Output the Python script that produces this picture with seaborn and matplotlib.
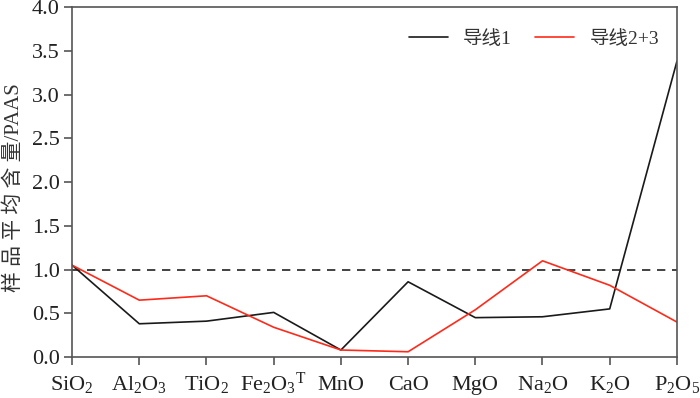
import matplotlib
matplotlib.use("Agg")
import matplotlib.pyplot as plt
import seaborn as sns
import pandas as pd

oxides = ["SiO2", "Al2O3", "TiO2", "Fe2O3T", "MnO", "CaO", "MgO", "Na2O", "K2O", "P2O5"]
tick_labels = [r"SiO$_2$", r"Al$_2$O$_3$", r"TiO$_2$", r"Fe$_2$O$_3$$^{\mathrm{T}}$", "MnO", "CaO",
               "MgO", r"Na$_2$O", r"K$_2$O", r"P$_2$O$_5$"]
line1 = [1.05, 0.38, 0.41, 0.51, 0.08, 0.86, 0.45, 0.46, 0.55, 3.38]
line23 = [1.05, 0.65, 0.70, 0.34, 0.08, 0.06, 0.54, 1.10, 0.82, 0.40]
series_names = ["导线1", "导线2+3"]
y_ticks = [0.0, 0.5, 1.0, 1.5, 2.0, 2.5, 3.0, 3.5, 4.0]

sns.set_theme(style="ticks")
plt.rcParams["font.family"] = ["Liberation Serif", "Noto Sans CJK SC"]
plt.rcParams["mathtext.fontset"] = "custom"
plt.rcParams["mathtext.rm"] = "Liberation Serif"
plt.rcParams["mathtext.it"] = "Liberation Serif:italic"

df = pd.DataFrame({
    "x": list(range(len(oxides))) * 2,
    "value": line1 + line23,
    "series": [series_names[0]] * len(oxides) + [series_names[1]] * len(oxides),
})

fig, ax = plt.subplots(figsize=(7.0, 3.98), dpi=100)
fig.subplots_adjust(left=0.103, right=0.967, top=0.982, bottom=0.103)

sns.lineplot(data=df, x="x", y="value", hue="series", palette=["#1a1a1a", "#ff2a1a"],
             linewidth=1.2, ax=ax, legend=True)
ax.axhline(1.0, color="#222222", linestyle=(0, (5, 4)), linewidth=1.2, zorder=0)

ax.set_xlim(0, 9)
ax.set_ylim(0, 4.0)
ax.set_xticks(range(len(oxides)))
ax.set_xticklabels(tick_labels, fontsize=16)
for lab in ax.get_xticklabels():
    lab.set_verticalalignment("baseline")
ax.set_yticks(y_ticks)
ax.set_yticklabels([f"{v:.1f}" for v in y_ticks], fontsize=16)
ax.set_xlabel("")
ax.set_ylabel("样 品 平 均 含 量/PAAS", fontsize=15, color="#333333")
ax.yaxis.set_label_coords(-0.079, 0.485)
for s in ax.spines.values():
    s.set_color("#555555")
    s.set_linewidth(1.2)
ax.tick_params(axis="both", direction="out", length=6, width=1.2, color="#555555",
               labelcolor="#222222")
ax.tick_params(axis="x", pad=18)
ax.tick_params(axis="y", pad=3)

leg = ax.legend(loc="upper right", ncol=2, frameon=False, fontsize=14,
                handlelength=2.0, columnspacing=1.2, handletextpad=0.8,
                bbox_to_anchor=(1.0, 0.985))
for t in leg.get_texts():
    t.set_color("#333333")

fig.savefig("out.png", dpi=100)
